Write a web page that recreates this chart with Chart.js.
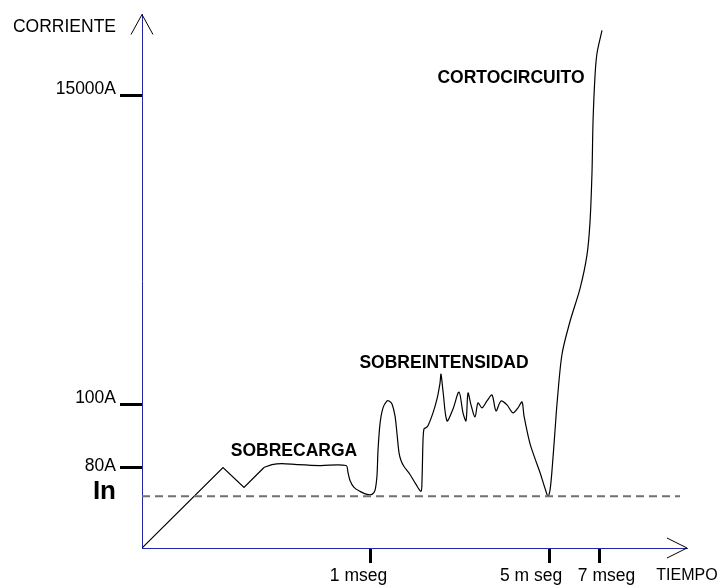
<!DOCTYPE html>
<html><head><meta charset="utf-8">
<script src="https://cdn.jsdelivr.net/npm/chart.js@4"></script>
<style>html,body{margin:0;padding:0;background:#fff}#wrap{width:724px;height:588px}</style>
</head><body><div id="wrap"><canvas id="c" width="724" height="588"></canvas></div>
<script>
// ---- data (schematic units: time along x, current level along y) ----
const rampX = [0, 81, 102, 122];
const rampY = [0, 81, 61, 81];
const curveX = [122,130,140,155,178,204,206,208,212,218,225,230,233,235,236,238,241,245,247,250,253,255,257,259,262,268,274,279,280,281,282,284,286,291,295,298,299,301,305,311,317,321,324,326,329,333,336,340,345,350,354,359,365,371,376,380,382,388,393,398,403,406,408,410,413,415,420,428,438,445,448,450,451,453,455,460];
const curveY = [81,84,85,84,83,83,76,68,61,57,54,54,58,73,98,125,141,148,148,145,133,115,96,88,82,74,64,57,68,108,120,121,123,136,150,166,175,158,128,140,157,136,128,156,144,132,146,141,148,154,138,148,144,136,141,147,133,105,90,76,60,52,58,78,118,145,195,228,261,295,328,378,428,475,498,521];
const inLevel = 52;
const yMarkVals = [81, 144, 455];
const yLabelVals = [56.5, 82, 151, 462, 524.5];
const yLabelTexts = ['In', '80A', '100A', '15000A', 'CORRIENTE'];
const xMarkVals = [228, 407, 457];
const xLabelVals = [216.5, 389, 464.5, 545];
const xLabelTexts = ['1 mseg', '5 m seg', '7 mseg', 'TIEMPO'];
const noteTexts = ['SOBRECARGA', 'SOBREINTENSIDAD', 'CORTOCIRCUITO'];
const X_MAX = 545, Y_MAX = 537;

// ---- presentation ----
const noteAnchors = [[152, 97], [302, 186], [369, 473]];
const FONT = '"Liberation Sans", Arial, Helvetica, sans-serif';
const AXIS_BLUE = '#2525a8';

function fixedTicks(vals) { return (scale) => { scale.ticks = vals.map(v => ({ value: v })); }; }

const overlay = {
  id: 'overlay',
  afterDraw(chart) {
    const ctx = chart.ctx, xs = chart.scales.x, ys = chart.scales.y;
    ctx.save();
    ctx.strokeStyle = '#000'; ctx.lineWidth = 1;
    const x0 = xs.getPixelForValue(0), yTop = ys.getPixelForValue(Y_MAX);
    ctx.beginPath(); ctx.moveTo(x0 - 11, yTop + 20); ctx.lineTo(x0, yTop); ctx.lineTo(x0 + 11, yTop + 20); ctx.stroke();
    const y0 = ys.getPixelForValue(0), xEnd = xs.getPixelForValue(X_MAX);
    ctx.beginPath(); ctx.moveTo(xEnd - 20, y0 - 10); ctx.lineTo(xEnd, y0); ctx.lineTo(xEnd - 20, y0 + 10); ctx.stroke();
    ctx.fillStyle = '#000';
    ctx.font = 'bold 17.5px ' + FONT;
    ctx.textAlign = 'center'; ctx.textBaseline = 'middle';
    noteTexts.forEach((t, i) => ctx.fillText(t, xs.getPixelForValue(noteAnchors[i][0]), ys.getPixelForValue(noteAnchors[i][1])));
    ctx.restore();
  }
};

new Chart(document.getElementById('c'), {
  type: 'line',
  data: {
    datasets: [
      { data: [{ x: 0, y: inLevel }, { x: 538, y: inLevel }], borderColor: '#707070', borderWidth: 2, borderDash: [8, 5], pointRadius: 0, tension: 0 },
      { data: rampX.map((x, i) => ({ x, y: rampY[i] })), borderColor: '#000', borderWidth: 1.2, pointRadius: 0, tension: 0 },
      { data: curveX.map((x, i) => ({ x, y: curveY[i] })), borderColor: '#000', borderWidth: 1.2, pointRadius: 0, tension: 0.3 }
    ]
  },
  options: {
    responsive: false, animation: false, devicePixelRatio: 1,
    layout: { padding: { top: 11, right: 37, left: 0, bottom: 0 } },
    plugins: { legend: { display: false }, tooltip: { enabled: false } },
    scales: {
      x: {
        type: 'linear', position: 'bottom', min: 0, max: X_MAX, weight: 0,
        afterBuildTicks: fixedTicks(xMarkVals), afterFit: s => { s.height = 15; },
        grid: { display: true, drawOnChartArea: false, drawTicks: true, tickLength: 15, tickWidth: 3, tickColor: '#000' },
        border: { display: true, color: AXIS_BLUE, width: 1 },
        ticks: { display: false, autoSkip: false }
      },
      x2: {
        type: 'linear', position: 'bottom', min: 0, max: X_MAX, weight: 1,
        afterBuildTicks: fixedTicks(xLabelVals), afterFit: s => { s.height = 25; },
        grid: { display: false, drawTicks: false }, border: { display: false },
        ticks: {
          autoSkip: false, maxRotation: 0, padding: 3, color: '#000',
          font: (c) => ({ family: FONT, size: xLabelTexts[c.index] === 'TIEMPO' ? 16 : 17.5 }),
          callback: (v, i) => xLabelTexts[i]
        }
      },
      y: {
        type: 'linear', position: 'left', min: 0, max: Y_MAX, weight: 0,
        afterBuildTicks: fixedTicks(yMarkVals), afterFit: s => { s.width = 22; },
        grid: { display: true, drawOnChartArea: false, drawTicks: true, tickLength: 22, tickWidth: 3, tickColor: '#000' },
        border: { display: true, color: AXIS_BLUE, width: 1 },
        ticks: { display: false, autoSkip: false }
      },
      y2: {
        type: 'linear', position: 'left', min: 0, max: Y_MAX, weight: 1,
        afterBuildTicks: fixedTicks(yLabelVals), afterFit: s => { s.width = 120; },
        grid: { display: false, drawTicks: false }, border: { display: false },
        ticks: {
          autoSkip: false, padding: 4, color: '#000',
          font: (c) => yLabelTexts[c.index] === 'In' ? { family: FONT, size: 26, weight: 'bold' } : { family: FONT, size: 17.5 },
          callback: (v, i) => yLabelTexts[i]
        }
      }
    }
  },
  plugins: [overlay]
});
</script></body></html>
